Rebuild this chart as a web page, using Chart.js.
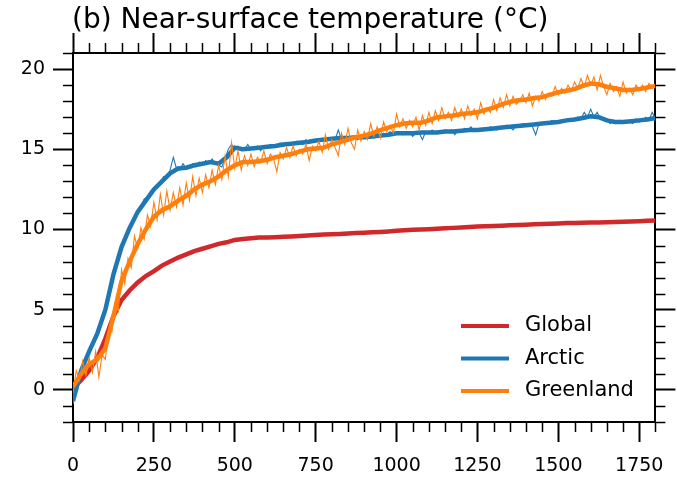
<!DOCTYPE html>
<html>
<head>
<meta charset="utf-8">
<script src="https://cdn.jsdelivr.net/npm/chart.js"></script>
<style>
	html, body { margin: 0; padding: 0; background: #fff; }
	canvas { display: block; }
</style>
</head>
<body>
<canvas id="myChart" width="677" height="477"></canvas>
<script>
const ctx = document.getElementById('myChart').getContext('2d');

// model years: smoothed curves every 25 yr, raw curves every 10 yr
const years25 = Array.from({ length: 73 }, (_, i) => i * 25);
const years10 = Array.from({ length: 181 }, (_, i) => i * 10);

const globalTemp = [
	0.1, 0.6, 1.2, 2.0, 3.2, 4.6, 5.6, 6.2, 6.7, 7.1,
	7.4, 7.75, 8.0, 8.25, 8.45, 8.65, 8.8, 8.95, 9.1, 9.2,
	9.35, 9.4, 9.45, 9.5, 9.5, 9.52, 9.55, 9.57, 9.6, 9.62,
	9.65, 9.68, 9.7, 9.72, 9.75, 9.78, 9.8, 9.82, 9.85, 9.88,
	9.92, 9.95, 9.98, 10.0, 10.02, 10.05, 10.08, 10.1, 10.12, 10.15,
	10.18, 10.2, 10.22, 10.24, 10.26, 10.28, 10.3, 10.32, 10.34, 10.36,
	10.38, 10.4, 10.4, 10.42, 10.43, 10.44, 10.45, 10.46, 10.48, 10.5,
	10.52, 10.55, 10.56,
];

const arcticTemp = [
	-0.7, 1.2, 2.4, 3.5, 5.0, 7.2, 8.9, 10.1, 11.1, 11.8,
	12.5, 13.0, 13.5, 13.8, 13.85, 14.0, 14.1, 14.2, 14.1, 14.5,
	15.1, 15.0, 15.05, 15.1, 15.15, 15.2, 15.3, 15.35, 15.4, 15.45,
	15.55, 15.6, 15.65, 15.7, 15.7, 15.75, 15.75, 15.8, 15.85, 15.9,
	16.0, 16.0, 16.0, 16.05, 16.05, 16.05, 16.1, 16.1, 16.15, 16.2,
	16.2, 16.25, 16.3, 16.35, 16.4, 16.45, 16.5, 16.55, 16.6, 16.65,
	16.7, 16.8, 16.85, 16.95, 17.05, 17.0, 16.8, 16.7, 16.7, 16.75,
	16.8, 16.85, 16.95,
];

const greenlandTemp = [
	0.2, 1.0, 1.6, 1.9, 2.6, 4.6, 6.8, 8.0, 9.1, 10.0,
	10.8, 11.2, 11.45, 11.8, 12.1, 12.5, 12.8, 13.0, 13.3, 13.7,
	14.0, 14.2, 14.2, 14.25, 14.35, 14.5, 14.6, 14.7, 14.85, 15.0,
	15.05, 15.1, 15.3, 15.45, 15.6, 15.75, 15.85, 16.0, 16.2, 16.35,
	16.5, 16.6, 16.65, 16.65, 16.8, 17.0, 17.05, 17.1, 17.2, 17.25,
	17.3, 17.45, 17.6, 17.8, 17.95, 18.05, 18.1, 18.2, 18.25, 18.4,
	18.55, 18.65, 18.75, 18.95, 19.1, 19.05, 18.9, 18.8, 18.7, 18.7,
	18.75, 18.85, 18.95,
];

const arcticRaw = [
	-0.9, 0.2, 0.9, 1.6, 1.8, 2.5, 2.8, 3.3, 3.8, 4.3,
	5.1, 5.8, 6.9, 7.5, 8.3, 8.8, 9.4, 9.8, 10.4, 10.7,
	11.2, 11.4, 11.9, 12.0, 12.4, 12.4, 12.8, 12.9, 13.3, 13.2,
	13.7, 14.5, 13.8, 13.7, 14.1, 13.8, 13.9, 14.1, 13.9, 14.2,
	14.0, 14.3, 14.1, 14.4, 14.1, 14.0, 13.9, 14.4, 15.0, 15.3,
	15.0, 15.2, 14.9, 15.0, 15.3, 15.0, 15.1, 15.2, 14.9, 15.2,
	15.1, 15.3, 15.2, 15.1, 15.4, 15.2, 15.3, 15.4, 15.3, 15.5,
	15.4, 15.3, 15.6, 15.4, 15.5, 15.6, 15.5, 15.7, 15.5, 15.6,
	15.7, 15.6, 16.2, 15.6, 15.8, 15.5, 15.7, 15.8, 15.6, 15.9,
	15.7, 15.8, 15.9, 15.7, 16.0, 15.8, 16.0, 15.9, 16.1, 15.9,
	16.0, 16.1, 15.9, 16.0, 16.1, 15.8, 16.1, 16.0, 15.6, 16.1,
	16.0, 16.2, 16.0, 16.1, 16.0, 16.2, 16.1, 16.2, 15.9, 16.2,
	16.1, 16.3, 16.2, 16.4, 16.1, 16.2, 16.3, 16.2, 16.3, 16.4,
	16.3, 16.2, 16.4, 16.3, 16.5, 16.4, 16.2, 16.5, 16.4, 16.6,
	16.5, 16.6, 16.4, 15.9, 16.6, 16.6, 16.7, 16.6, 16.8, 16.7,
	16.7, 16.8, 16.8, 16.9, 16.8, 16.9, 17.0, 16.9, 17.3, 17.0,
	17.5, 17.0, 17.3, 16.9, 16.8, 16.9, 16.6, 16.8, 16.6, 16.8,
	16.6, 16.8, 16.7, 16.6, 16.9, 16.7, 16.8, 17.0, 16.8, 17.3,
	16.9,
];

const greenlandRaw = [
	-0.2, 1.2, 0.6, 1.8, 0.9, 2.0, 1.1, 2.4, 0.8, 2.2,
	1.9, 3.8, 3.6, 5.4, 4.9, 7.5, 6.6, 8.2, 7.6, 9.6,
	8.8, 10.1, 9.4, 10.9, 10.2, 11.7, 10.6, 12.2, 10.9, 12.4,
	11.2, 12.3, 11.4, 12.6, 11.5, 12.9, 11.8, 13.3, 12.1, 13.2,
	12.3, 13.4, 12.6, 13.7, 12.8, 14.0, 13.1, 14.6, 13.3, 15.4,
	13.8, 14.9, 13.7, 14.6, 14.0, 14.7, 13.9, 14.5, 14.2, 14.9,
	14.1, 14.7, 14.4, 13.6, 14.8, 14.4, 15.1, 14.5, 15.2, 14.6,
	15.0, 14.7, 15.3, 14.3, 15.2, 14.9, 15.5, 14.8, 15.9, 15.0,
	15.6, 15.1, 14.6, 16.0, 15.3, 16.3, 15.4, 15.0, 16.2, 15.5,
	16.1, 15.6, 16.6, 15.8, 16.4, 15.7, 16.7, 16.1, 16.5, 16.0,
	17.2, 16.4, 16.9, 16.3, 16.8, 16.4, 17.0, 16.2, 17.1, 16.5,
	17.3, 16.6, 17.4, 16.8, 17.6, 16.9, 17.3, 16.8, 17.6, 17.0,
	17.5, 16.9, 17.7, 17.1, 17.5, 16.9, 17.9, 17.2, 17.6, 17.3,
	18.1, 17.4, 18.2, 17.6, 18.4, 17.7, 18.3, 17.8, 18.0, 18.4,
	17.9, 18.5, 17.7, 18.3, 18.0, 18.6, 18.1, 18.5, 18.3, 18.9,
	18.4, 18.8, 18.5, 19.0, 18.6, 19.2, 18.8, 19.4, 18.9, 19.6,
	19.0, 19.5, 18.7, 19.6, 18.9, 18.4, 19.1, 18.6, 18.9, 18.3,
	19.2, 18.5, 18.8, 18.4, 19.0, 18.7, 19.0, 18.6, 19.1, 18.8,
	19.0,
];

const xTickValues = [0, 250, 500, 750, 1000, 1250, 1500, 1750];
const yTickValues = [0, 5, 10, 15, 20];

const titleText = '(b) Near-surface temperature (°C)';
const fontFamily = '"DejaVu Sans", Verdana, sans-serif';

const toPoints = (xs, ys) => xs.map((x, i) => ({ x, y: ys[i] }));

const red = '#d0292c';
const blue = '#1f77b4';
const orange = '#ff7f0e';

const thick = (label, data, color, order) => ({
	label,
	data,
	borderColor: color,
	borderWidth: 4.5,
	pointRadius: 0,
	order,
	inLegend: true,
});

const thin = (data, color, order) => ({
	label: '',
	data,
	borderColor: color,
	borderWidth: 1.1,
	pointRadius: 0,
	order,
	inLegend: false,
});

// ticks that are not labelled (minor ones), the title and the legend
const decorations = {
	id: 'decorations',
	afterDraw: (chart) => {
		const { ctx, chartArea, scales } = chart;
		ctx.save();
		ctx.strokeStyle = '#000';
		ctx.lineWidth = 1.5;
		ctx.beginPath();
		for (let v = 50; v <= 1800; v += 50) {
			if (v % 250 === 0) continue;
			const px = Math.round(scales.x.getPixelForValue(v)) + 0.5;
			ctx.moveTo(px, chartArea.bottom);
			ctx.lineTo(px, chartArea.bottom + 10);
			ctx.moveTo(px, chartArea.top);
			ctx.lineTo(px, chartArea.top - 10);
		}
		for (let v = -2; v <= 21; v++) {
			if (v % 5 === 0) continue;
			const py = Math.round(scales.y.getPixelForValue(v)) + 0.5;
			ctx.moveTo(chartArea.left, py);
			ctx.lineTo(chartArea.left - 10, py);
			ctx.moveTo(chartArea.right, py);
			ctx.lineTo(chartArea.right + 10, py);
		}
		ctx.stroke();

		ctx.fillStyle = '#000';
		ctx.font = '28px ' + fontFamily;
		ctx.textAlign = 'left';
		ctx.textBaseline = 'alphabetic';
		ctx.fillText(titleText, 72, 28);

		const items = chart.data.datasets.filter((d) => d.inLegend);
		ctx.font = '21px ' + fontFamily;
		ctx.textBaseline = 'middle';
		items.forEach((d, i) => {
			const y = 326 + i * 32.5;
			ctx.strokeStyle = d.borderColor;
			ctx.lineWidth = 4;
			ctx.beginPath();
			ctx.moveTo(461, y);
			ctx.lineTo(509, y);
			ctx.stroke();
			ctx.fillStyle = '#000';
			ctx.fillText(d.label, 525, y);
		});
		ctx.restore();
	},
};

const grid = {
	drawOnChartArea: false,
	drawTicks: true,
	tickLength: 20,
	tickWidth: 2,
	tickColor: '#000',
};
const border = { display: true, color: '#000', width: 2 };
const tickFont = { family: fontFamily, size: 19 };

const setTicks = (values) => (scale) => {
	scale.ticks = values.map((value) => ({ value }));
};

const config = {
	type: 'line',
	data: {
		datasets: [
			thick('Global', toPoints(years25, globalTemp), red, 6),
			thick('Arctic', toPoints(years25, arcticTemp), blue, 3),
			thick('Greenland', toPoints(years25, greenlandTemp), orange, 1),
			thin(toPoints(years10, arcticRaw), blue, 4),
			thin(toPoints(years10, greenlandRaw), orange, 2),
		],
	},
	options: {
		responsive: false,
		animation: false,
		devicePixelRatio: 1,
		layout: { padding: 0 },
		plugins: {
			legend: { display: false },
			title: { display: false },
			tooltip: { enabled: false },
		},
		scales: {
			x: {
				type: 'linear',
				position: 'bottom',
				min: 0,
				max: 1800,
				grid,
				border,
				ticks: {
					font: tickFont,
					color: '#000',
					padding: 13,
					maxRotation: 0,
					callback: (value) => String(value),
				},
				afterBuildTicks: setTicks(xTickValues),
				afterFit: (scale) => {
					scale.height = 55;
				},
			},
			xTop: {
				type: 'linear',
				position: 'top',
				min: 0,
				max: 1800,
				grid,
				border,
				ticks: { display: false },
				afterBuildTicks: setTicks(xTickValues),
				afterFit: (scale) => {
					scale.height = 53;
				},
			},
			y: {
				type: 'linear',
				position: 'left',
				min: -2,
				max: 21,
				grid,
				border,
				ticks: { font: tickFont, color: '#000', padding: 8 },
				afterBuildTicks: setTicks(yTickValues),
				afterFit: (scale) => {
					scale.width = 73;
				},
			},
			yRight: {
				type: 'linear',
				position: 'right',
				min: -2,
				max: 21,
				grid,
				border,
				ticks: { display: false },
				afterBuildTicks: setTicks(yTickValues),
				afterFit: (scale) => {
					scale.width = 16;
				},
			},
		},
	},
	plugins: [decorations],
};

const myChart = new Chart(ctx, config);
</script>
</body>
</html>
